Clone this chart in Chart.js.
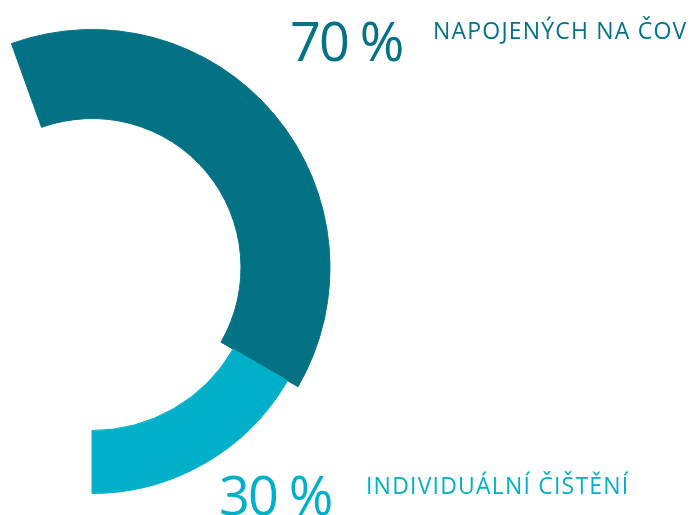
<!DOCTYPE html>
<html>
<head>
<meta charset="utf-8">
<script src="https://cdn.jsdelivr.net/npm/chart.js@4.4.0/dist/chart.umd.min.js"></script>
<style>
    html, body { margin: 0; padding: 0; background: #fff; }
    #wrap { position: relative; width: 699px; height: 515px; overflow: hidden; }
    #chart { position: absolute; left: 0; top: 0; }
    .pct, .lbl { position: absolute; font-family: "Open Sans", sans-serif; line-height: 1; white-space: nowrap; }
    .pct { font-size: 54px; letter-spacing: -2px; }
    .lbl { font-size: 23px; letter-spacing: 1.2px; }
</style>
</head>
<body>
<div id="wrap">
    <canvas id="chart" width="699" height="515"></canvas>
    <div class="pct" id="pct0" style="left:290px; top:13px;"></div>
    <div class="lbl" id="lbl0" style="left:433px; top:19px;"></div>
    <div class="pct" id="pct1" style="left:219px; top:467px;"></div>
    <div class="lbl" id="lbl1" style="left:366px; top:474px;"></div>
</div>
<script>
// chart data
const categories = ['NAPOJENÝCH NA ČOV', 'INDIVIDUÁLNÍ ČIŠTĚNÍ'];
const shares = [70, 30];
const colors = ['#037285', '#00b0c8'];

const dark = colors[0];
const light = colors[1];
const none = 'rgba(0,0,0,0)';

// the light segment is a bit thinner than the dark one,
// so the ring is built from three stacked datasets
function ring(bg, weight) {
    return {
        data: shares,
        backgroundColor: bg,
        borderColor: bg,
        borderWidth: 1,
        weight: weight,
        clip: false
    };
}

new Chart(document.getElementById('chart').getContext('2d'), {
    type: 'doughnut',
    data: {
        labels: categories,
        datasets: [
            ring([dark, none], 12),
            ring([dark, light], 63),
            ring([dark, none], 14)
        ]
    },
    options: {
        responsive: false,
        animation: false,
        events: [],
        radius: 238,
        cutout: '62.6%',
        rotation: -19.8,
        circumference: 199.8,
        layout: { padding: { left: 0, right: 357.6, top: 20, bottom: 0 } },
        plugins: {
            legend: { display: false },
            tooltip: { enabled: false }
        }
    }
});

// value labels
categories.forEach((name, i) => {
    const pct = document.getElementById('pct' + i);
    const lbl = document.getElementById('lbl' + i);
    pct.textContent = shares[i] + ' %';
    lbl.textContent = name;
    pct.style.color = colors[i];
    lbl.style.color = colors[i];
});
</script>
</body>
</html>
